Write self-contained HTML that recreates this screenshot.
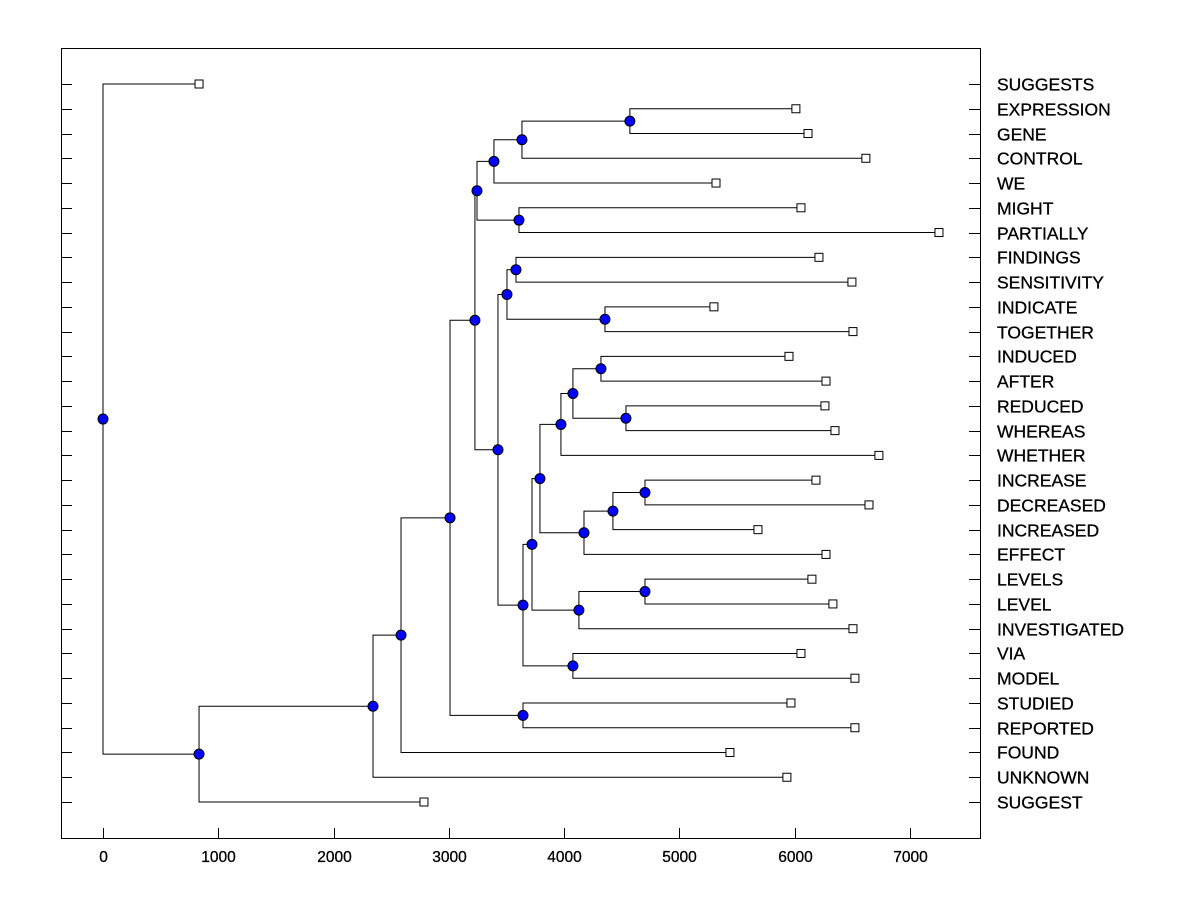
<!DOCTYPE html>
<html><head><meta charset="utf-8"><style>body{margin:0;background:#fff}svg{display:block}</style></head>
<body>
<svg id="c" width="1200" height="900" font-family="Liberation Sans, sans-serif"></svg>
<script>
const leaves=["SUGGESTS","EXPRESSION","GENE","CONTROL","WE","MIGHT","PARTIALLY","FINDINGS","SENSITIVITY","INDICATE","TOGETHER","INDUCED","AFTER","REDUCED","WHEREAS","WHETHER","INCREASE","DECREASED","INCREASED","EFFECT","LEVELS","LEVEL","INVESTIGATED","VIA","MODEL","STUDIED","REPORTED","FOUND","UNKNOWN","SUGGEST"];
const leafValues=[833,6010,6115,6617,5317,6054,7251,6210,6496,5299,6505,5950,6271,6262,6349,6730,6184,6644,5681,6271,6149,6331,6505,6054,6522,5967,6522,5438,5932,2784];
// merges: [childA, childB, height]; leaves as "L<i>", nodes as "N<i>"
const merges=[
["L1","L2",4570],["N0","L3",3634],["N1","L4",3391],["L5","L6",3608],["N2","N3",3244],
["L7","L8",3582],["L9","L10",4354],["N5","N6",3504],["L11","L12",4319],["L13","L14",4536],
["N8","N9",4076],["N10","L15",3972],["L16","L17",4701],["N12","L18",4423],["N13","L19",4172],
["N11","N14",3790],["L20","L21",4701],["N16","L22",4128],["N15","N17",3721],["L23","L24",4076],
["N18","N19",3643],["N7","N20",3426],["N4","N21",3226],["L25","L26",3643],["N22","N23",3010],
["N24","L27",2585],["N25","L28",2342],["N26","L29",833],["L0","N27",0]];
const xTicks=[0,1000,2000,3000,4000,5000,6000,7000];
const svg=document.getElementById('c');const NS="http://www.w3.org/2000/svg";
function mk(t,a,p){const e=document.createElementNS(NS,t);for(const k in a)e.setAttribute(k,a[k]);(p||svg).appendChild(e);return e;}
const X=v=>103+v*0.11529, Y=i=>84+i*24.759;
const L=61,R=980,T=48,B=838;
const frame=mk('rect',{x:L+.5,y:T+.5,width:R-L,height:B-T,fill:'none',stroke:'#000'});


xTicks.forEach(v=>{const x=Math.round(X(v))+.5;
 const t=mk('line',{x1:x,x2:x,y1:B,y2:B-10,stroke:'#000'});
 
 
 const tx=mk('text',{x:x,y:862,'font-size':15.5,'text-anchor':'middle',stroke:'#000','stroke-width':0.3});tx.textContent=v;
 
 });
leaves.forEach((n,i)=>{const y=Math.round(Y(i))+.5;
 const a=mk('line',{x1:L,x2:L+11,y1:y,y2:y,stroke:'#000'});
 
 
 const b=mk('line',{x1:R-11,x2:R,y1:y,y2:y,stroke:'#000'});
 
 
 const t=mk('text',{x:997,y:y+6,'font-size':17.5,stroke:'#000','stroke-width':0.3});t.textContent=n;
 
 });
const pos={};leaves.forEach((n,i)=>pos["L"+i]={x:X(leafValues[i]),y:Y(i),leaf:true});
const g=mk('g',{stroke:'#000',fill:'none'});
const nodes=[];
merges.forEach((m,k)=>{const a=pos[m[0]],b=pos[m[1]],x=X(m[2]),y=(a.y+b.y)/2;
 const p=mk('path',{d:`M${a.x} ${a.y}H${x}V${b.y}H${b.x}`},g);
 
 
 pos["N"+k]={x,y};nodes.push({x,y});});
leaves.forEach((n,i)=>{const p=pos["L"+i];
 const r=mk('rect',{x:p.x-4,y:p.y-4,width:8,height:8,fill:'#fff',stroke:'#000'});
 
 });
nodes.forEach(p=>{const c=mk('circle',{cx:p.x,cy:p.y,r:5,fill:'#0000ff',stroke:'#000'});
 
 });
</script>
</body></html>
